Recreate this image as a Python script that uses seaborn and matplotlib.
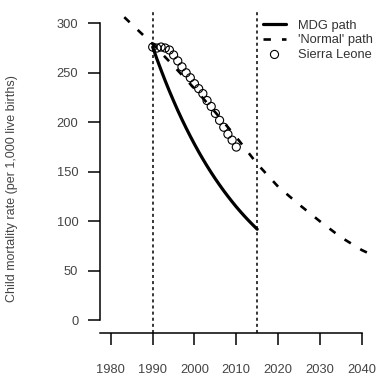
import matplotlib
matplotlib.use("Agg")
import matplotlib.pyplot as plt
import seaborn as sns
import numpy as np

# ---- data ----
mdg_years = list(range(1990, 2016))
mdg_values = [276.0, 264.1, 252.8, 241.9, 231.5, 221.6, 212.0, 202.9, 194.2, 185.9,
              177.9, 170.2, 162.9, 155.9, 149.2, 142.8, 136.7, 130.8, 125.2, 119.8,
              114.6, 109.7, 105.0, 100.5, 96.2, 92.0]

normal_years = [1980, 1982, 1985, 1990, 1995, 2000, 2005, 2010, 2015, 2020, 2025, 2030, 2035, 2040, 2042]
normal_values = [319, 311, 299, 279, 257, 234, 210, 185, 158, 135, 117, 100, 84, 71, 67]

sl_years = list(range(1990, 2011))
sl_values = [276, 275, 276, 275, 273, 268, 262, 256, 250, 245, 239, 234, 229, 222, 216,
             209, 202, 195, 188, 182, 175]

xticks = [1980, 1990, 2000, 2010, 2020, 2030, 2040]
yticks = [0, 50, 100, 150, 200, 250, 300]
vlines = [1990, 2015]
labels = ["MDG path", "'Normal' path", "Sierra Leone"]
ylabel = "Child mortality rate (per 1,000 live births)"

sns.set_style("white")
plt.rcParams['font.family'] = ['Liberation Sans', 'DejaVu Sans']

fig = plt.figure(figsize=(3.76, 3.76), dpi=100)
ax = fig.add_axes([100/376, (376-333)/376, 268/376, 321/376])

txtcol = "#444444"

for v in vlines:
    ax.axvline(v, color="black", linewidth=1.1, linestyle=(0, (2, 2)), zorder=1)

sns.lineplot(x=mdg_years, y=mdg_values, color="black", linewidth=2.3, ax=ax, label=labels[0])
sns.lineplot(x=normal_years, y=normal_values, color="black", linewidth=1.9,
             linestyle=(0, (2.8, 4.2)), ax=ax, label=labels[1])
sns.scatterplot(x=sl_years, y=sl_values, s=34, facecolor="none", edgecolor="black",
                linewidth=0.8, ax=ax, label=labels[2], zorder=3)

ax.set_xlim(1977.4, 2041.5)
ax.set_ylim(-12.8, 311.4)

for s in ["top", "right"]:
    ax.spines[s].set_visible(False)
for s in ["left", "bottom"]:
    ax.spines[s].set_linewidth(1.1)
    ax.spines[s].set_color("black")
ax.spines["left"].set_bounds(0, 300)
ax.spines["bottom"].set_bounds(1977.4, 2040)

ax.set_xticks(xticks)
ax.set_yticks(yticks)
ax.tick_params(axis="x", direction="out", length=8.6, width=1.1, pad=14, labelsize=9.3,
               labelcolor=txtcol, bottom=True, color="black")
ax.tick_params(axis="y", direction="out", length=8.6, width=1.1, pad=7, labelsize=9.3,
               labelcolor=txtcol, left=True, color="black")

ax.set_xlabel("")
ax.set_ylabel(ylabel, fontsize=9.0, color=txtcol)
ax.yaxis.set_label_coords(-0.305, 0.45)

handles, labs = ax.get_legend_handles_labels()
leg = ax.legend(handles, labs, loc="upper left", bbox_to_anchor=(263/376, 0.948),
                bbox_transform=fig.transFigure, frameon=False, fontsize=9.3,
                handlelength=1.78, handletextpad=0.9, labelspacing=0.2,
                borderpad=0, borderaxespad=0)
for t in leg.get_texts():
    t.set_color("#333333")

fig.savefig("out.png", dpi=100)
